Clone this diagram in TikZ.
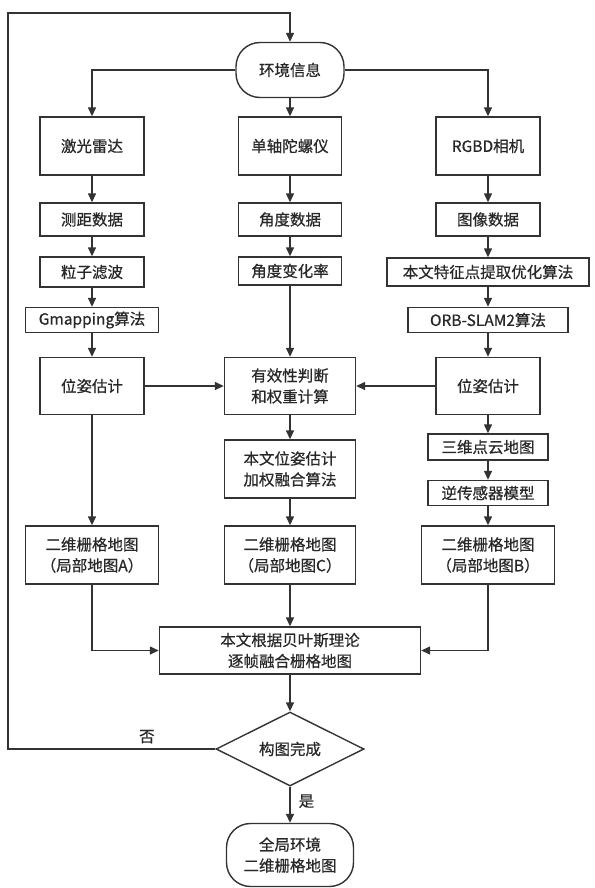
\documentclass[tikz,border=0pt]{standalone}
\usepackage{fontspec}
\setmainfont{Noto Sans CJK SC}[FakeBold=0.6]
\usepackage{tikz}
\usetikzlibrary{shapes.geometric, arrows.meta, positioning, calc}
\definecolor{linegray}{RGB}{51, 51, 51}
\definecolor{textgray}{RGB}{40, 40, 40}
\begin{document}
\begin{tikzpicture}[x=1pt, y=-1pt,
  every node/.style={font=\fontsize{15.5}{21}\selectfont, text=textgray, align=center, inner sep=0pt},
  procbox/.style={draw=linegray, line width=1.4pt, fill=white, rectangle},
  termbox/.style={draw=linegray, line width=1.4pt, fill=white, rectangle, rounded corners=24pt},
  decbox/.style={draw=linegray, line width=1.4pt, fill=white, diamond, aspect=2},
  flow/.style={draw=linegray, line width=1.4pt, -{Triangle[length=9pt, width=8pt]}}]
  \useasboundingbox (0,0) rectangle (594,888);

  % Start
  \node[termbox, minimum width=108pt, minimum height=55pt] (env) at (290,70) {环境信息};

  % Sensors
  \node[procbox, minimum width=104pt, minimum height=58pt] (lidar) at (92,146) {激光雷达};
  \node[procbox, minimum width=103pt, minimum height=58pt] (gyro) at (290,146) {单轴陀螺仪};
  \node[procbox, minimum width=104pt, minimum height=58pt] (rgbd) at (488,146) {RGBD相机};

  % Raw data
  \node[procbox, minimum width=104pt, minimum height=33pt] (range) at (92,219.5) {测距数据};
  \node[procbox, minimum width=103pt, minimum height=33pt] (angle) at (290,219.5) {角度数据};
  \node[procbox, minimum width=104pt, minimum height=33pt] (image) at (488,219.5) {图像数据};

  % Processing
  \node[procbox, minimum width=104pt, minimum height=30pt] (pfilter) at (92,272) {粒子滤波};
  \node[procbox, minimum width=103pt, minimum height=28pt] (rate) at (290,271) {角度变化率};
  \node[procbox, minimum width=202pt, minimum height=28pt] (feat) at (488,272) {本文特征点提取优化算法};
  \node[procbox, minimum width=133pt, minimum height=25pt] (gmap) at (92,320) {Gmapping算法};
  \node[procbox, minimum width=160pt, minimum height=25pt] (orb) at (488,320) {ORB-SLAM2算法};

  % Pose estimates
  \node[procbox, minimum width=104pt, minimum height=57pt] (poseL) at (92,386) {位姿估计};
  \node[procbox, minimum width=131pt, minimum height=57pt] (valid) at (290,386) {有效性判断\\和权重计算};
  \node[procbox, minimum width=104pt, minimum height=57pt] (poseR) at (488,386) {位姿估计};

  \node[procbox, minimum width=120pt, minimum height=26pt] (cloud) at (488,447) {三维点云地图};
  \node[procbox, minimum width=131pt, minimum height=58pt] (fuse) at (290,469) {本文位姿估计\\加权融合算法};
  \node[procbox, minimum width=120pt, minimum height=25pt] (invsens) at (488,493) {逆传感器模型};

  % Local maps
  \node[procbox, minimum width=133pt, minimum height=58pt] (gridA) at (92,555) {二维栅格地图\\（局部地图A）};
  \node[procbox, minimum width=131pt, minimum height=58pt] (gridC) at (290,555) {二维栅格地图\\（局部地图C）};
  \node[procbox, minimum width=133pt, minimum height=58pt] (gridB) at (488,555) {二维栅格地图\\（局部地图B）};

  \node[procbox, minimum width=261pt, minimum height=47pt] (bayes) at (290,650.5) {本文根据贝叶斯理论\\逐帧融合栅格地图};

  % Decision and end
  \node[decbox, minimum width=148pt, minimum height=74pt] (done) at (290,749) {构图完成};
  \node[termbox, minimum width=127pt, minimum height=63pt] (global) at (290,855) {全局环境\\二维栅格地图};

  \coordinate (loopL) at (8,749);
  \coordinate (loopT) at (8,13);

  % Connectors
  \draw[flow] (env) -- (gyro);
  \draw[flow] (env.west) -| (lidar.north);
  \draw[flow] (env.east) -| (rgbd.north);

  \draw[flow] (lidar) -- (range);
  \draw[flow] (range) -- (pfilter);
  \draw[flow] (pfilter) -- (gmap);
  \draw[flow] (gmap) -- (poseL);

  \draw[flow] (gyro) -- (angle);
  \draw[flow] (angle) -- (rate);
  \draw[flow] (rate) -- (valid);

  \draw[flow] (rgbd) -- (image);
  \draw[flow] (image) -- (feat);
  \draw[flow] (feat) -- (orb);
  \draw[flow] (orb) -- (poseR);

  \draw[flow] (poseL) -- (valid);
  \draw[flow] (poseR) -- (valid);

  \draw[flow] (valid) -- (fuse);
  \draw[flow] (fuse) -- (gridC);
  \draw[flow] (poseL) -- (gridA);
  \draw[flow] (poseR) -- (cloud);
  \draw[flow] (cloud) -- (invsens);
  \draw[flow] (invsens) -- (gridB);

  \draw[flow] (gridA.south) |- (bayes.west);
  \draw[flow] (gridB.south) |- (bayes.east);
  \draw[flow] (gridC) -- (bayes);

  \draw[flow] (bayes) -- (done);
  \draw[flow] (done) -- node[right=8pt, pos=0.4] (yes) {是} (global);

  % Loop back
  \draw[flow] (done.west) -- node[above=5pt, pos=0.33] (no) {否} (loopL) -- (loopT) -| (env.north);
\end{tikzpicture}
\end{document}
